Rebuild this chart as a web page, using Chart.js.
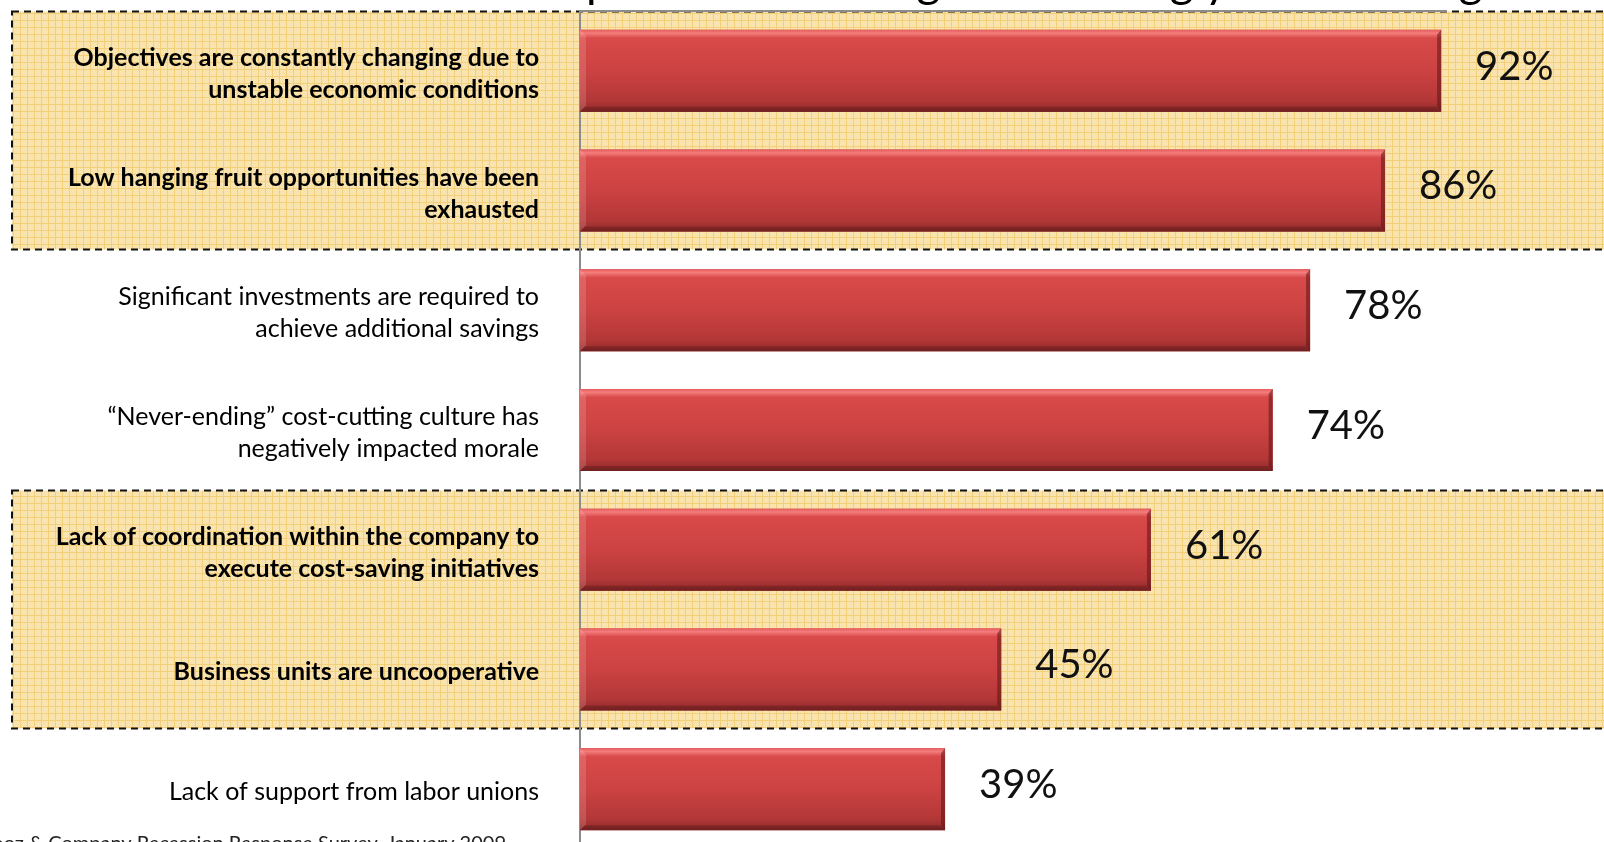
<!DOCTYPE html>
<html>
<head>
<meta charset="utf-8">
<title>Cost-cutting obstacles</title>
<script src="https://cdn.jsdelivr.net/npm/chart.js@4.4.1/dist/chart.umd.min.js"></script>
<style>
  html, body { margin: 0; padding: 0; background: #fff; overflow: hidden; }
  #wrap { width: 1604px; height: 842px; overflow: hidden; }
  canvas { display: block; }
</style>
</head>
<body>
<div id="wrap"><canvas id="barrierChart" width="1604" height="870"></canvas></div>
<script>
const categories = [
    ['Objectives are constantly changing due to', 'unstable economic conditions'],
    ['Low hanging fruit opportunities have been', 'exhausted'],
    ['Significant investments are required to', 'achieve additional savings'],
    ['\u201cNever-ending\u201d cost-cutting culture has', 'negatively impacted morale'],
    ['Lack of coordination within the company to', 'execute cost-saving initiatives'],
    'Business units are uncooperative',
    'Lack of support from labor unions'
];
const shares = [92, 86, 78, 74, 61, 45, 39];

// rows framed by the dashed yellow boxes, and the rows set in bold
const frameGroups = [[0, 1], [4, 5]];
const boldRows = [0, 1, 4, 5];

const titleText = 'Companies are finding it increasingly difficult to generate savings';
const sourceText = 'Source: Booz & Company Recession Response Survey, January 2009';

const barShare = 0.685;
const FONT = 'Lato, "Open Sans", sans-serif';

function gridPattern(ctx) {
    const c = document.createElement('canvas');
    c.width = 7;
    c.height = 7;
    const p = c.getContext('2d');
    p.fillStyle = '#f8e0a4';
    p.fillRect(0, 0, 7, 7);
    p.fillStyle = '#fae8bb';
    for (let y = 0; y < 6; y++) {
        for (let x = 0; x < 6; x++) {
            if ((x + y) % 2 === 0) p.fillRect(x, y, 1, 1);
        }
    }
    p.fillStyle = '#f4cf7a';
    p.fillRect(6, 0, 1, 7);
    p.fillRect(0, 6, 7, 1);
    return ctx.createPattern(c, 'repeat');
}

function barGradient(ctx, top, bottom) {
    const g = ctx.createLinearGradient(0, top, 0, bottom);
    g.addColorStop(0, '#e55c5c');
    g.addColorStop(0.04, '#f57d7d');
    g.addColorStop(0.1, '#d94a4a');
    g.addColorStop(0.5, '#cc4242');
    g.addColorStop(0.86, '#b33737');
    g.addColorStop(0.94, '#9e3030');
    g.addColorStop(1, '#7a2727');
    return g;
}

// yellow dashed frames go under everything, including the tick labels
const framePlugin = {
    id: 'frames',
    beforeDraw(chart) {
        const { ctx, chartArea } = chart;
        const y = chart.scales.y;
        const band = y.height / categories.length;
        ctx.save();
        frameGroups.forEach(([a, b]) => {
            const top = Math.round(y.getPixelForValue(a) - band / 2) + 0.5;
            const bottom = Math.round(y.getPixelForValue(b) + band / 2) - 0.5;
            ctx.fillStyle = gridPattern(ctx);
            ctx.fillRect(12, top, chart.width + 20, bottom - top);
            ctx.setLineDash([7, 5]);
            ctx.lineWidth = 2;
            ctx.strokeStyle = '#111';
            ctx.strokeRect(12, top, chart.width + 20, bottom - top);
        });
        ctx.setLineDash([]);
        // plot border along the top
        ctx.strokeStyle = '#8c8c8c';
        ctx.lineWidth = 2;
        ctx.beginPath();
        ctx.moveTo(chartArea.left, chartArea.top);
        ctx.lineTo(1447, chartArea.top);
        ctx.stroke();

        // heading sits mostly above the page
        ctx.font = '46px ' + FONT;
        ctx.fillStyle = '#000';
        ctx.textBaseline = 'alphabetic';
        ctx.textAlign = 'left';
        const lead = ctx.measureText('Com').width;
        ctx.fillText(titleText, 586 - lead, -3);
        ctx.restore();
    }
};

// shaded fill, bevel edges and value labels on the bars
const bevelPlugin = {
    id: 'bevel',
    afterDatasetsDraw(chart) {
        const ctx = chart.ctx;
        ctx.save();
        chart.getDatasetMeta(0).data.forEach((bar, i) => {
            const left = bar.base;
            const right = bar.x;
            const top = bar.y - bar.height / 2;
            const bottom = bar.y + bar.height / 2;

            ctx.fillStyle = barGradient(ctx, top, bottom);
            ctx.fillRect(left, top, right - left, bottom - top);

            ctx.fillStyle = 'rgba(255, 215, 215, 0.18)';
            ctx.beginPath();
            ctx.moveTo(left, top);
            ctx.lineTo(left + 6, top + 6);
            ctx.lineTo(left + 6, bottom - 6);
            ctx.lineTo(left, bottom);
            ctx.fill();

            ctx.fillStyle = 'rgba(95, 20, 20, 0.55)';
            ctx.beginPath();
            ctx.moveTo(right, top);
            ctx.lineTo(right - 4, top + 5);
            ctx.lineTo(right - 4, bottom - 5);
            ctx.lineTo(right, bottom);
            ctx.fill();

            ctx.fillStyle = 'rgba(90, 20, 20, 0.35)';
            ctx.beginPath();
            ctx.moveTo(left, bottom);
            ctx.lineTo(left + 5, bottom - 5);
            ctx.lineTo(right - 5, bottom - 5);
            ctx.lineTo(right, bottom);
            ctx.fill();

            ctx.font = '40px ' + FONT;
            ctx.fillStyle = '#111';
            ctx.textAlign = 'left';
            ctx.textBaseline = 'middle';
            ctx.fillText(shares[i] + '%', right + 34, bar.y - 4);
        });
        ctx.restore();
    },
    afterDraw(chart) {
        const ctx = chart.ctx;
        ctx.save();
        ctx.font = '20px ' + FONT;
        ctx.fillStyle = '#222';
        ctx.textAlign = 'right';
        ctx.textBaseline = 'top';
        ctx.fillText(sourceText, 506, 834);
        ctx.restore();
    }
};

const ctx = document.getElementById('barrierChart').getContext('2d');
new Chart(ctx, {
    type: 'bar',
    data: {
        labels: categories,
        datasets: [{
            data: shares,
            borderWidth: 0,
            barPercentage: barShare,
            categoryPercentage: 1,
            backgroundColor: '#c94141'
        }]
    },
    options: {
        indexAxis: 'y',
        responsive: false,
        animation: false,
        layout: { padding: { top: 11, bottom: 21, left: 0, right: 88 } },
        plugins: {
            legend: { display: false },
            tooltip: { enabled: false }
        },
        scales: {
            x: { display: false, min: 0, max: 100 },
            y: {
                grid: { display: false, drawTicks: false },
                border: { display: true, color: '#8c8c8c', width: 2 },
                afterFit(scale) {
                    // labels keep their gap from the axis, but add no room above or below
                    scale.width = 580;
                    scale.paddingTop = 0;
                    scale.paddingBottom = 0;
                },
                ticks: {
                    padding: 41,
                    labelOffset: 3,
                    color: '#000',
                    font(c) {
                        return {
                            family: FONT,
                            size: 25,
                            weight: boldRows.includes(c.index) ? 'bold' : 'normal',
                            lineHeight: 1.28
                        };
                    }
                }
            }
        }
    },
    plugins: [framePlugin, bevelPlugin]
});
</script>
</body>
</html>
